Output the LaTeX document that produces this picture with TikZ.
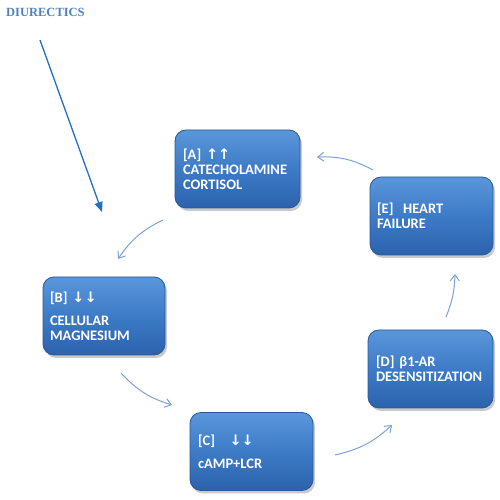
\documentclass[tikz,border=0pt]{standalone}
\usepackage{fontspec}
\setmainfont{Carlito}
\newfontfamily\titlefont{Liberation Serif}
\newfontfamily\symfont{DejaVu Sans}
\usetikzlibrary{arrows.meta,shadows}
\definecolor{boxtop}{HTML}{5A96DA}
\definecolor{boxmid}{HTML}{3D7BC7}
\definecolor{boxbot}{HTML}{2C62AC}
\definecolor{boxedge}{HTML}{2A5898}
\definecolor{cyc}{HTML}{7DA2D8}
\definecolor{diu}{HTML}{2070C8}
\definecolor{ttl}{HTML}{4F81BD}
\tikzset{
  box/.style={rounded corners=11pt, top color=boxtop, bottom color=boxbot, middle color=boxmid,
    draw=boxedge, line width=0.8pt,
    drop shadow={shadow xshift=2pt, shadow yshift=-3pt, opacity=0.35, fill=black!60},
    text=white, font=\bfseries\fontsize{14.5}{15}\selectfont, align=left, inner sep=0pt,
    minimum height=78pt},
  cycarrow/.style={draw=cyc, line width=1pt, -{Straight Barb[length=6pt,width=9pt]}, bend right=15},
  diuarrow/.style={draw=diu, line width=1.3pt, -{Triangle[length=10pt,width=8pt]}}
}
\newcommand{\arr}[1]{{\symfont\bfseries #1}}
\begin{document}
\begin{tikzpicture}[x=1pt,y=1pt]
\useasboundingbox (0,0) rectangle (500,500);
\node[font=\titlefont\bfseries\fontsize{12.5}{14}\selectfont, text=ttl, anchor=west, inner sep=0pt] (title) at (6,488) {DIURECTICS};
\coordinate (d1) at (40,460);
\coordinate (d2) at (102,288);
\draw[diuarrow] (d1) -- (d2);

\node[box, minimum width=125pt, text width=109pt] (A) at (237.5,331) {[A] \arr{↑↑}\\CATECHOLAMINE\\CORTISOL};
\node[box, minimum width=122pt, text width=108pt] (B) at (104,184) {[B] \arr{↓↓}\\[8pt]CELLULAR\\MAGNESIUM};
\node[box, minimum width=123pt, text width=107pt] (C) at (251.5,48.5) {[C]\ \ \ \arr{↓↓}\\[8pt]cAMP+LCR};
\node[box, minimum width=125pt, text width=109pt] (D) at (430.5,131) {[D] β1-AR\\DESENSITIZATION};
\node[box, minimum width=123pt, text width=109pt] (E) at (431.5,284) {[E]\ \ HEART\\FAILURE};

\coordinate (ab1) at (163,280); \coordinate (ab2) at (118,241);
\coordinate (bc1) at (121,127); \coordinate (bc2) at (172,95);
\coordinate (cd1) at (335,45);  \coordinate (cd2) at (392,75);
\coordinate (de1) at (446,183); \coordinate (de2) at (455,226);
\coordinate (ea1) at (373,330); \coordinate (ea2) at (317,343);
\draw[cycarrow] (ab1) to (ab2);
\draw[cycarrow] (bc1) to (bc2);
\draw[cycarrow] (cd1) to (cd2);
\draw[cycarrow, bend right=10] (de1) to (de2);
\draw[cycarrow] (ea1) to (ea2);
\end{tikzpicture}
\end{document}
